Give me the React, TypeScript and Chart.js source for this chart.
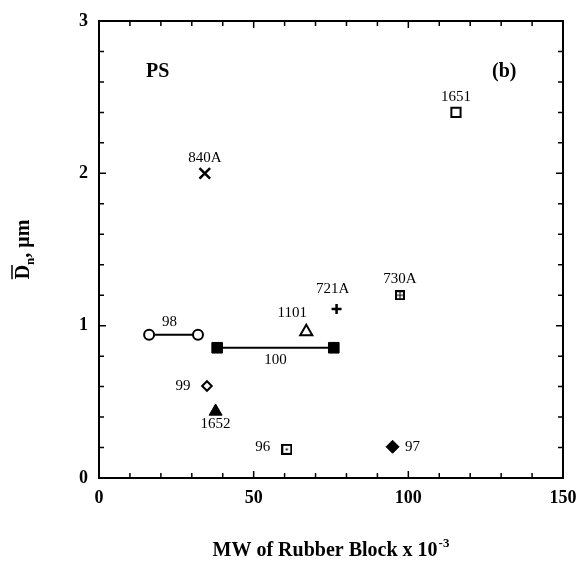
import React, { useEffect, useRef } from "react";
import { Chart, registerables } from "chart.js";

Chart.register(...registerables);

// ---- data (MW of rubber block x 1e-3, number-average particle diameter in µm) ----
const series98X = [16.2, 32.0];
const series98Y = [0.94, 0.94];
const series100X = [38.2, 75.9];
const series100Y = [0.855, 0.855];

const singleNames = ["840A", "1651", "730A", "721A", "1101", "99", "1652", "96", "97"];
const singleX = [34.2, 115.4, 97.3, 76.8, 67.0, 34.9, 37.7, 60.7, 94.9];
const singleY = [2.0, 2.4, 1.2, 1.11, 0.96, 0.604, 0.437, 0.188, 0.205];

const xTickLabels = [0, 50, 100, 150];
const yTickLabels = [0, 1, 2, 3];

const X_MIN = 0, X_MAX = 150, X_MINOR = 10;
const Y_MIN = 0, Y_MAX = 3, Y_MINOR = 0.2;

const SERIF = "'Liberation Serif', 'Times New Roman', serif";

// label placement relative to the point (or the segment midpoint for joined pairs)
const labelPlacement: Record<string, { dx: number; dy: number; align: CanvasTextAlign }> = {
  "840A": { dx: 0, dy: -15, align: "center" },
  "1651": { dx: 0, dy: -15, align: "center" },
  "730A": { dx: 0, dy: -16, align: "center" },
  "721A": { dx: -4, dy: -20, align: "center" },
  "1101": { dx: -14, dy: -19, align: "center" },
  "98": { dx: -4, dy: -13, align: "center" },
  "100": { dx: 0, dy: 12, align: "center" },
  "99": { dx: -24, dy: 0, align: "center" },
  "1652": { dx: 0, dy: 13, align: "center" },
  "96": { dx: -24, dy: -2, align: "center" },
  "97": { dx: 20, dy: 0, align: "center" },
};

function makeBoxDots(): HTMLCanvasElement {
  const c = document.createElement("canvas");
  c.width = 10; c.height = 10;
  const g = c.getContext("2d")!;
  g.fillStyle = "#000";
  g.fillRect(0, 0, 10, 10);
  g.fillStyle = "#fff";
  g.fillRect(2, 2, 2.5, 2.5);
  g.fillRect(5.5, 2, 2.5, 2.5);
  g.fillRect(2, 5.5, 2.5, 2.5);
  g.fillRect(5.5, 5.5, 2.5, 2.5);
  return c;
}

function makeBoxCenterDot(): HTMLCanvasElement {
  const c = document.createElement("canvas");
  c.width = 11; c.height = 11;
  const g = c.getContext("2d")!;
  g.fillStyle = "#fff";
  g.fillRect(0, 0, 11, 11);
  g.strokeStyle = "#000";
  g.lineWidth = 2;
  g.strokeRect(1, 1, 9, 9);
  g.fillStyle = "#000";
  g.fillRect(4.5, 4.5, 2, 2);
  return c;
}

const framePlugin = {
  id: "frame",
  afterDraw(chart: any) {
    const { ctx, chartArea: a, scales } = chart;
    const xs = scales.x, ys = scales.y;
    ctx.save();
    ctx.strokeStyle = "#000";
    ctx.lineWidth = 2;
    ctx.strokeRect(a.left, a.top, a.right - a.left, a.bottom - a.top);
    ctx.lineWidth = 1.5;
    ctx.beginPath();
    for (let v = X_MIN; v <= X_MAX + 1e-9; v += X_MINOR) {
      const px = xs.getPixelForValue(v);
      const len = xTickLabels.includes(Math.round(v)) ? 7 : 5;
      ctx.moveTo(px, a.bottom); ctx.lineTo(px, a.bottom - len);
      ctx.moveTo(px, a.top); ctx.lineTo(px, a.top + len);
    }
    for (let i = 0; Y_MIN + i * Y_MINOR <= Y_MAX + 1e-9; i++) {
      const v = Y_MIN + i * Y_MINOR;
      const py = ys.getPixelForValue(v);
      const len = i % 5 === 0 ? 7 : 5;
      ctx.moveTo(a.left, py); ctx.lineTo(a.left + len, py);
      ctx.moveTo(a.right, py); ctx.lineTo(a.right - len, py);
    }
    ctx.stroke();

    // axis titles
    ctx.fillStyle = "#000";
    const main = "MW of Rubber Block x 10";
    ctx.font = `bold 20px ${SERIF}`;
    const wMain = ctx.measureText(main).width;
    ctx.font = `bold 13px ${SERIF}`;
    const sup = "-3";
    const wSup = ctx.measureText(sup).width;
    const cx = (a.left + a.right) / 2;
    const startX = cx - (wMain + wSup + 1) / 2;
    ctx.textBaseline = "alphabetic";
    ctx.textAlign = "left";
    ctx.font = `bold 20px ${SERIF}`;
    ctx.fillText(main, startX, a.bottom + 78);
    ctx.font = `bold 13px ${SERIF}`;
    ctx.fillText(sup, startX + wMain + 1, a.bottom + 69);

    // y title (rotated)
    ctx.save();
    ctx.translate(29, (a.top + a.bottom) / 2);
    ctx.rotate(-Math.PI / 2);
    ctx.font = `bold 20px ${SERIF}`;
    const wD = ctx.measureText("D").width;
    ctx.font = `bold 13px ${SERIF}`;
    const wN = ctx.measureText("n").width;
    ctx.font = `bold 20px ${SERIF}`;
    const rest = ", \u03bcm";
    const wR = ctx.measureText(rest).width;
    const total = wD + wN + wR;
    const x0 = -total / 2;
    ctx.textAlign = "left";
    ctx.fillText("D", x0, 0);
    ctx.lineWidth = 1.5;
    ctx.beginPath();
    ctx.moveTo(x0, -17);
    ctx.lineTo(x0 + wD, -17);
    ctx.stroke();
    ctx.font = `bold 13px ${SERIF}`;
    ctx.fillText("n", x0 + wD, 5);
    ctx.font = `bold 20px ${SERIF}`;
    ctx.fillText(rest, x0 + wD + wN, 0);
    ctx.restore();

    // panel annotations
    ctx.font = `bold 20px ${SERIF}`;
    ctx.textAlign = "center";
    ctx.textBaseline = "middle";
    ctx.fillText("PS", xs.getPixelForValue(19), ys.getPixelForValue(2.666));
    ctx.fillText("(b)", xs.getPixelForValue(131), ys.getPixelForValue(2.666));
    ctx.restore();
  },
};

const labelPlugin = {
  id: "pointLabels",
  afterDatasetsDraw(chart: any) {
    const { ctx } = chart;
    ctx.save();
    ctx.fillStyle = "#000";
    ctx.font = `15px ${SERIF}`;
    ctx.textBaseline = "middle";
    chart.data.datasets.forEach((ds: any, i: number) => {
      const name = ds.label as string;
      const p = labelPlacement[name];
      if (!p) return;
      const pts = chart.getDatasetMeta(i).data;
      let ax = 0, ay = 0;
      pts.forEach((pt: any) => { ax += pt.x; ay += pt.y; });
      ax /= pts.length; ay /= pts.length;
      ctx.textAlign = p.align;
      ctx.fillText(name, ax + p.dx, ay + p.dy);
    });
    ctx.restore();
  },
};

export default function App() {
  const ref = useRef<HTMLCanvasElement | null>(null);

  useEffect(() => {
    if (!ref.current) return;
    document.body.style.margin = "0";
    const boxDots = makeBoxDots();
    const boxDot = makeBoxCenterDot();

    const styleFor: Record<string, any> = {
      "840A": { pointStyle: "crossRot", pointRadius: 7.5, borderWidth: 2.5, backgroundColor: "#000" },
      "1651": { pointStyle: "rect", pointRadius: 6.5, borderWidth: 2, backgroundColor: "#fff" },
      "730A": { pointStyle: boxDots, pointRadius: 5 },
      "721A": { pointStyle: "cross", pointRadius: 5, borderWidth: 2.5, backgroundColor: "#000" },
      "1101": { pointStyle: "triangle", pointRadius: 7, borderWidth: 2, backgroundColor: "#fff" },
      "99": { pointStyle: "rectRot", pointRadius: 4.8, borderWidth: 2, backgroundColor: "#fff" },
      "1652": { pointStyle: "triangle", pointRadius: 7.5, borderWidth: 1, backgroundColor: "#000" },
      "96": { pointStyle: boxDot, pointRadius: 5 },
      "97": { pointStyle: "rectRot", pointRadius: 6.5, borderWidth: 1, backgroundColor: "#000" },
    };

    const datasets: any[] = [
      {
        label: "98",
        data: series98X.map((x, i) => ({ x, y: series98Y[i] })),
        showLine: true,
        borderColor: "#000",
        borderWidth: 2,
        pointStyle: "circle",
        pointRadius: 5,
        pointBorderWidth: 2,
        pointBackgroundColor: "#fff",
        pointBorderColor: "#000",
      },
      {
        label: "100",
        data: series100X.map((x, i) => ({ x, y: series100Y[i] })),
        showLine: true,
        borderColor: "#000",
        borderWidth: 2,
        pointStyle: "rect",
        pointRadius: 7.5,
        pointBorderWidth: 1,
        pointBackgroundColor: "#000",
        pointBorderColor: "#000",
      },
      ...singleNames.map((name, i) => {
        const s = styleFor[name];
        return {
          label: name,
          data: [{ x: singleX[i], y: singleY[i] }],
          showLine: false,
          pointStyle: s.pointStyle,
          pointRadius: s.pointRadius,
          pointBorderWidth: s.borderWidth ?? 1,
          pointBackgroundColor: s.backgroundColor ?? "#000",
          pointBorderColor: "#000",
        };
      }),
    ];

    const tickFont = { family: SERIF, size: 18, weight: "bold" as const };

    const chart = new Chart(ref.current, {
      type: "scatter",
      data: { datasets },
      options: {
        animation: false,
        responsive: false,
        devicePixelRatio: 1,
        layout: { padding: { left: 0, top: 21, right: 17, bottom: 0 } },
        plugins: { legend: { display: false }, tooltip: { enabled: false } },
        scales: {
          x: {
            type: "linear",
            min: X_MIN,
            max: X_MAX,
            afterBuildTicks: (scale: any) => {
              scale.ticks = xTickLabels.map((v) => ({ value: v }));
            },
            ticks: { font: tickFont, color: "#000", padding: 10, maxRotation: 0 },
            grid: { display: false, drawTicks: false },
            border: { display: false },
            afterFit: (scale: any) => {
              scale.height = 85;
              scale.paddingLeft = 0;
              scale.paddingRight = 0;
            },
          },
          y: {
            type: "linear",
            min: Y_MIN,
            max: Y_MAX,
            afterBuildTicks: (scale: any) => {
              scale.ticks = yTickLabels.map((v) => ({ value: v }));
            },
            ticks: { font: tickFont, color: "#000", padding: 11 },
            grid: { display: false, drawTicks: false },
            border: { display: false },
            afterFit: (scale: any) => {
              scale.width = 99;
              scale.paddingTop = 0;
              scale.paddingBottom = 0;
            },
          },
        },
      },
      plugins: [framePlugin, labelPlugin],
    });
    return () => chart.destroy();
  }, []);

  return (
    <div style={{ position: "fixed", left: 0, top: 0, width: 580, height: 563, background: "#fff" }}>
      <canvas ref={ref} width={580} height={563} style={{ display: "block" }} />
    </div>
  );
}
